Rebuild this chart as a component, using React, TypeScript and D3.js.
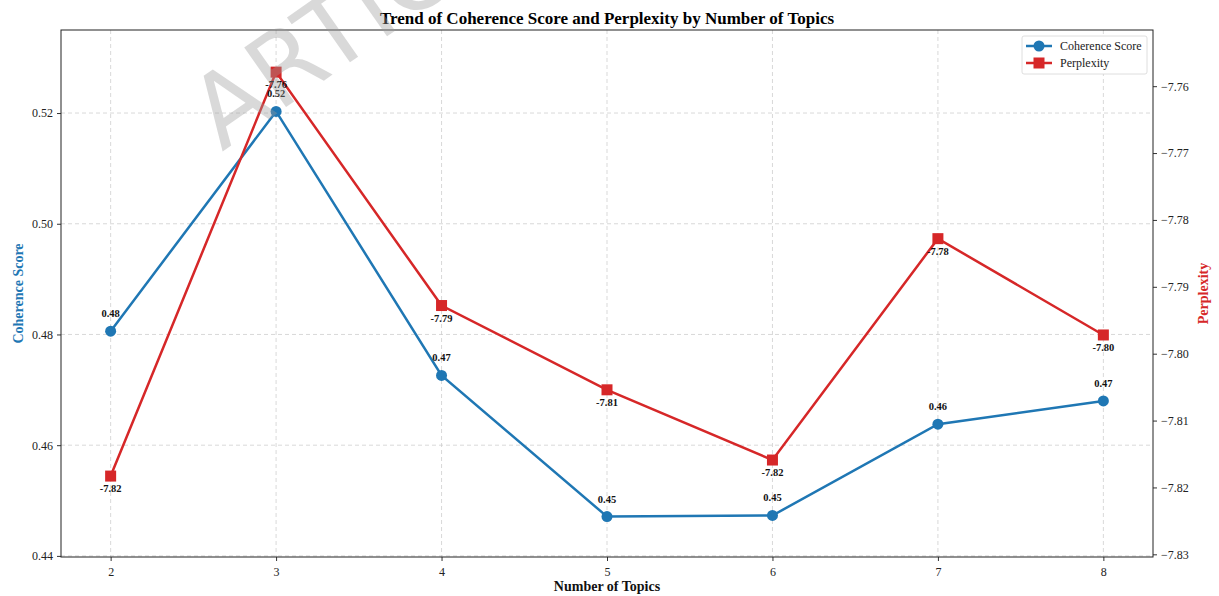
import React, { useEffect, useRef } from "react";
import * as d3 from "d3";

const topics = [2, 3, 4, 5, 6, 7, 8];
const coherence = [0.4806, 0.5203, 0.4726, 0.4471, 0.4473, 0.4638, 0.468];
const perplexity = [-7.8183, -7.7579, -7.7928, -7.8054, -7.8159, -7.7828, -7.7972];
const leftTicks = [0.44, 0.46, 0.48, 0.5, 0.52];
const rightTicks = [-7.83, -7.82, -7.81, -7.8, -7.79, -7.78, -7.77, -7.76];

const BLUE = "#1f77b4";
const RED = "#d62728";
const FONT = "'Liberation Serif', 'Times New Roman', serif";

const App = () => {
  const svgRef = useRef<SVGSVGElement>(null);

  useEffect(() => {
    const w = 1219;
    const h = 596;
    const m = { left: 61, right: 1153, top: 30, bottom: 557 };
    const svg = d3.select(svgRef.current).attr("width", w).attr("height", h);
    svg.selectAll("*").remove();

    const x = d3.scaleLinear().domain([1.7, 8.3]).range([m.left, m.right]);
    const yL = d3.scaleLinear().domain([0.4398, 0.5350]).range([m.bottom, m.top]);
    const yR = d3.scaleLinear().domain([-7.8304, -7.7516]).range([m.bottom, m.top]);

    // grid
    const grid = svg.append("g");
    topics.forEach((t) => {
      grid.append("line").attr("x1", x(t)).attr("x2", x(t)).attr("y1", m.top).attr("y2", m.bottom)
        .attr("stroke", "#cfcfcf").attr("stroke-width", 0.8).attr("stroke-dasharray", "4,3");
    });
    leftTicks.forEach((t) => {
      grid.append("line").attr("x1", m.left).attr("x2", m.right).attr("y1", yL(t)).attr("y2", yL(t))
        .attr("stroke", "#cfcfcf").attr("stroke-width", 0.8).attr("stroke-dasharray", "4,3");
    });

    // axes
    const xAxis = d3.axisBottom(x).tickValues(topics).tickFormat(d3.format("d")).tickSize(4).tickPadding(6);
    const lAxis = d3.axisLeft(yL).tickValues(leftTicks).tickFormat(d3.format(".2f")).tickSize(4).tickPadding(4);
    const rAxis = d3.axisRight(yR).tickValues(rightTicks)
      .tickFormat((d) => d3.format(".2f")(d as number).replace("-", "\u2212")).tickSize(4).tickPadding(4);

    const styleAxis = (g: any) => {
      g.select(".domain").remove();
      g.attr("font-family", FONT);
      g.selectAll("text").attr("font-family", FONT).attr("font-size", 12).attr("fill", "#222");
      g.selectAll("line").attr("stroke", "#333");
    };
    svg.append("g").attr("transform", `translate(0,${m.bottom})`).call(xAxis).call(styleAxis);
    svg.append("g").attr("transform", `translate(${m.left},0)`).call(lAxis).call(styleAxis);
    svg.append("g").attr("transform", `translate(${m.right},0)`).call(rAxis).call(styleAxis);

    svg.append("rect").attr("x", m.left).attr("y", m.top).attr("width", m.right - m.left)
      .attr("height", m.bottom - m.top).attr("fill", "none").attr("stroke", "#222").attr("stroke-width", 1);

    // lines
    const cLine = d3.line<number>().x((d, i) => x(topics[i])).y((d) => yL(d));
    const pLine = d3.line<number>().x((d, i) => x(topics[i])).y((d) => yR(d));

    svg.append("path").attr("d", cLine(coherence)).attr("fill", "none").attr("stroke", BLUE).attr("stroke-width", 2.5);
    svg.selectAll(".cdot").data(coherence).join("circle")
      .attr("cx", (d, i) => x(topics[i])).attr("cy", (d) => yL(d)).attr("r", 5.5).attr("fill", BLUE);

    svg.append("path").attr("d", pLine(perplexity)).attr("fill", "none").attr("stroke", RED).attr("stroke-width", 2.5);
    svg.selectAll(".pdot").data(perplexity).join("rect")
      .attr("x", (d, i) => x(topics[i]) - 5.5).attr("y", (d) => yR(d) - 5.5)
      .attr("width", 11).attr("height", 11).attr("fill", RED);

    // value labels
    svg.selectAll(".clab").data(coherence).join("text")
      .attr("x", (d, i) => x(topics[i])).attr("y", (d) => yL(d) - 14)
      .attr("text-anchor", "middle").attr("font-family", FONT).attr("font-size", 10.5)
      .attr("font-weight", "bold").attr("fill", "#111").text((d) => d.toFixed(2));
    svg.selectAll(".plab").data(perplexity).join("text")
      .attr("x", (d, i) => x(topics[i])).attr("y", (d) => yR(d) + 16)
      .attr("text-anchor", "middle").attr("font-family", FONT).attr("font-size", 10.5)
      .attr("font-weight", "bold").attr("fill", "#111").text((d) => d.toFixed(2));

    // titles
    svg.append("text").attr("x", (m.left + m.right) / 2).attr("y", 24).attr("text-anchor", "middle")
      .attr("font-family", FONT).attr("font-size", 17).attr("font-weight", "bold").attr("fill", "#000")
      .text("Trend of Coherence Score and Perplexity by Number of Topics");
    svg.append("text").attr("x", (m.left + m.right) / 2).attr("y", 591).attr("text-anchor", "middle")
      .attr("font-family", FONT).attr("font-size", 14).attr("font-weight", "bold").attr("fill", "#111")
      .text("Number of Topics");
    svg.append("text").attr("transform", `translate(23,${(m.top + m.bottom) / 2}) rotate(-90)`)
      .attr("text-anchor", "middle").attr("font-family", FONT).attr("font-size", 14)
      .attr("font-weight", "bold").attr("fill", BLUE).text("Coherence Score");
    svg.append("text").attr("transform", `translate(1208,${(m.top + m.bottom) / 2}) rotate(-90)`)
      .attr("text-anchor", "middle").attr("font-family", FONT).attr("font-size", 14)
      .attr("font-weight", "bold").attr("fill", RED).text("Perplexity");

    // legend
    const lg = svg.append("g").attr("transform", "translate(1022,36)");
    lg.append("rect").attr("width", 125).attr("height", 38).attr("rx", 2).attr("fill", "#fff")
      .attr("stroke", "#d6d6d6").attr("stroke-width", 0.8);
    const entries = [
      { name: "Coherence Score", color: BLUE, shape: "circle" },
      { name: "Perplexity", color: RED, shape: "square" },
    ];
    entries.forEach((e, i) => {
      const cy = 10 + i * 17;
      lg.append("line").attr("x1", 4).attr("x2", 30).attr("y1", cy).attr("y2", cy)
        .attr("stroke", e.color).attr("stroke-width", 2.5);
      if (e.shape === "circle") {
        lg.append("circle").attr("cx", 17).attr("cy", cy).attr("r", 5.5).attr("fill", e.color);
      } else {
        lg.append("rect").attr("x", 11.5).attr("y", cy - 5.5).attr("width", 11).attr("height", 11).attr("fill", e.color);
      }
      lg.append("text").attr("x", 38).attr("y", cy + 4).attr("font-family", FONT).attr("font-size", 12)
        .attr("fill", "#222").text(e.name);
    });

    // watermark
    svg.append("text").attr("transform", "translate(222,152) rotate(-35)")
      .attr("font-family", "'DejaVu Sans', sans-serif").attr("font-size", 100)
      .attr("fill", "#9a9a9a").attr("fill-opacity", 0.38).text("ARTICLE");
  }, []);

  return (
    <div style={{ position: "absolute", left: 0, top: 0 }}>
      <svg ref={svgRef} style={{ display: "block" }}></svg>
    </div>
  );
};

export default App;
